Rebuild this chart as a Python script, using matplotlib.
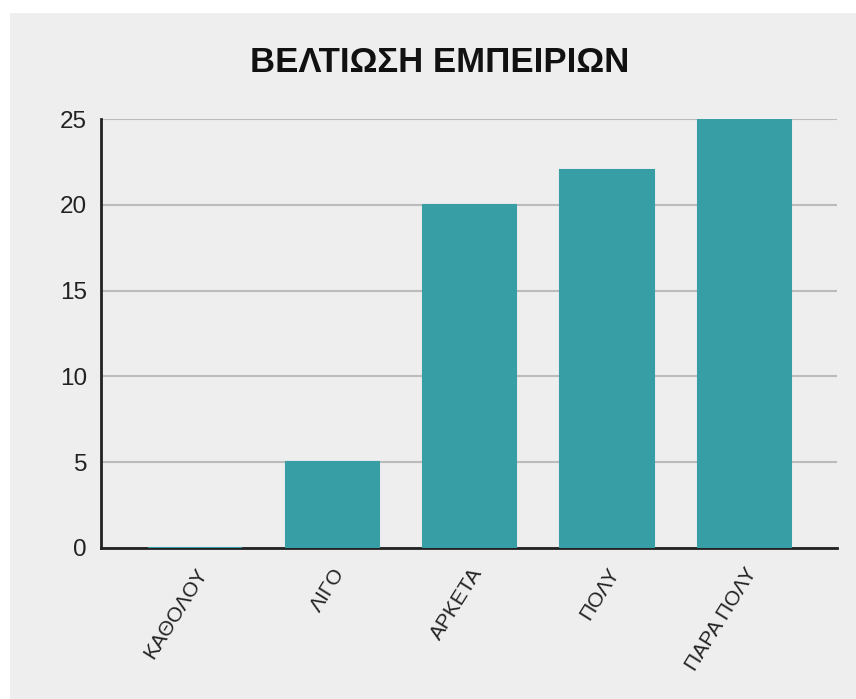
import matplotlib.pyplot as plt
from matplotlib.patches import Rectangle

# data
categories = ['ΚΑΘΟΛΟΥ', 'ΛΙΓΟ', 'ΑΡΚΕΤΑ', 'ΠΟΛΥ', 'ΠΑΡΑ ΠΟΛΥ']
values = [0, 5, 20, 22, 25]
yticks = [0, 5, 10, 15, 20, 25]

plt.rcParams['font.family'] = ['Liberation Sans', 'DejaVu Sans']

W, H = 856, 699
fig = plt.figure(figsize=(W / 100, H / 100), dpi=100)
fig.patch.set_facecolor('white')

# grey card behind the chart
fig.patches.append(Rectangle((10 / W, 0), 1, 1 - 13 / H, transform=fig.transFigure,
                             facecolor='#eeeeee', edgecolor='none', zorder=-10))

ax = fig.add_axes([101 / W, 1 - 548 / H, (837 - 101) / W, (548 - 119) / H])
ax.set_facecolor('#eeeeee')

bar_color = '#389ea5'
x = range(len(categories))
ax.bar(x, values, width=0.68, color=bar_color, edgecolor=bar_color, linewidth=1.5, zorder=5)

ax.set_xlim(-0.684, 4.673)
ax.set_ylim(0, 25)
ax.set_yticks(yticks)
ax.set_yticklabels([str(t) for t in yticks], fontsize=17.5, color='#222222')
ax.set_xticks(list(x))
ax.set_xticklabels(categories, rotation=58, ha='right', rotation_mode='anchor',
                   fontsize=15, color='#222222')
ax.tick_params(axis='y', length=0, pad=10)
ax.tick_params(axis='x', length=0, pad=12)

ax.grid(axis='y', color='#bbbbbb', linewidth=1.5, zorder=1)
ax.set_axisbelow(True)

for s in ['top', 'right']:
    ax.spines[s].set_visible(False)
for s in ['left', 'bottom']:
    ax.spines[s].set_color('#222222')
    ax.spines[s].set_linewidth(2)
    ax.spines[s].set_zorder(4)

fig.text(440 / W, 1 - 63 / H, 'ΒΕΛΤΙΩΣΗ ΕΜΠΕΙΡΙΩΝ', ha='center', va='center',
         fontsize=25, fontweight='bold', color='#111111')

fig.savefig('out.png', dpi=100, facecolor=fig.get_facecolor())
